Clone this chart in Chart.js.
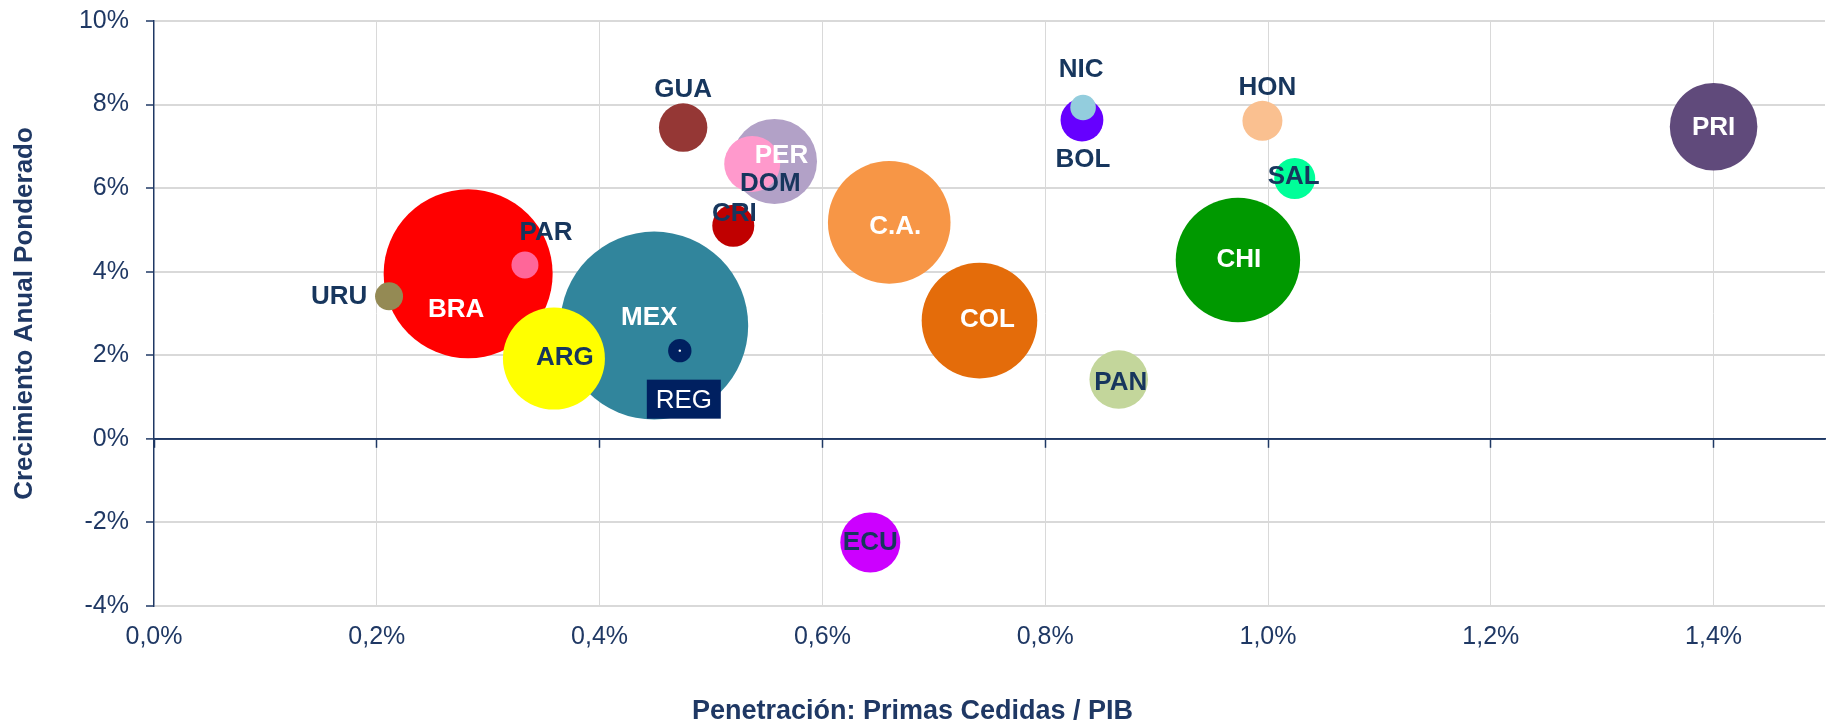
<!DOCTYPE html>
<html lang="es">
<head>
    <meta charset="UTF-8">
    <title>Penetración vs Crecimiento</title>
    <script src="https://cdn.jsdelivr.net/npm/chart.js@4"></script>
    <style>
        body { margin: 0; background: #fff; }
        #grafico { display: block; }
    </style>
</head>
<body>
    <canvas id="grafico" width="1833" height="727"></canvas>

    <script>
        // Datos
        var paises = ['BRA', 'URU', 'PAR', 'MEX', 'ARG', 'REG', 'PER', 'DOM', 'GUA', 'CRI',
                      'C.A.', 'COL', 'CHI', 'PAN', 'BOL', 'NIC', 'HON', 'SAL', 'PRI', 'ECU'];
        // Penetracion: primas cedidas / PIB (%)
        var penetracion = [0.282, 0.211, 0.333, 0.449, 0.359, 0.472, 0.557, 0.537, 0.475, 0.520,
                           0.660, 0.741, 0.973, 0.866, 0.833, 0.834, 0.995, 1.024, 1.400, 0.643];
        // Crecimiento anual ponderado (%)
        var crecimiento = [3.95, 3.41, 4.16, 2.71, 1.92, 2.11, 6.64, 6.58, 7.45, 5.10,
                           5.18, 2.83, 4.28, 1.42, 7.63, 7.93, 7.61, 6.23, 7.47, -2.48];
        // Tamano de la burbuja (radio)
        var tamano = [84.5, 14, 13.5, 94, 51, 11.7, 42.5, 28, 24.2, 21,
                      61.3, 57.8, 62.2, 29.3, 21.4, 12.8, 20, 20.5, 43.8, 30];
        var ticksX = [0, 0.2, 0.4, 0.6, 0.8, 1.0, 1.2, 1.4];
        var ticksY = [-4, -2, 0, 2, 4, 6, 8, 10];

        var colores = {
            'BRA': '#FF0000', 'URU': '#948A54', 'PAR': '#FF6699', 'MEX': '#31859C',
            'ARG': '#FFFF00', 'REG': '#002060', 'PER': '#B2A1C7', 'DOM': '#FF99CC',
            'GUA': '#953735', 'CRI': '#C00000', 'C.A.': '#F79646', 'COL': '#E46C0A',
            'CHI': '#009900', 'PAN': '#C3D69B', 'BOL': '#6600FF', 'NIC': '#93CDDD',
            'HON': '#FAC090', 'SAL': '#00FF99', 'PRI': '#604A7B', 'ECU': '#CC00FF'
        };
        // desplazamiento de cada etiqueta respecto al centro de su burbuja
        var desplazamiento = {
            'BRA': [-12, 36], 'URU': [-50, 0], 'PAR': [21, -32], 'MEX': [-5, -8],
            'ARG': [11, -1], 'REG': [4, 49], 'PER': [7, -6], 'DOM': [18, 20],
            'GUA': [0, -38], 'CRI': [1, -12], 'C.A.': [6, 4], 'COL': [8, -1],
            'CHI': [1, 0], 'PAN': [2, 3], 'BOL': [1, 40], 'NIC': [-2, -38],
            'HON': [5, -33], 'SAL': [-1, -2], 'PRI': [0, 1], 'ECU': [0, 0]
        };
        var blancos = ['BRA', 'MEX', 'PER', 'C.A.', 'COL', 'CHI', 'PRI'];

        var azul = '#1F3864';
        var gris = '#D9D9D9';
        var fuente = "'Liberation Sans', Arial, sans-serif";

        Chart.defaults.font.family = fuente;
        Chart.defaults.color = azul;

        // etiquetas de las burbujas
        var etiquetas = {
            id: 'etiquetas',
            afterDatasetsDraw: function (chart) {
                var ctx = chart.ctx;
                var meta = chart.getDatasetMeta(0);
                ctx.save();
                ctx.textAlign = 'center';
                ctx.textBaseline = 'middle';
                meta.data.forEach(function (el, i) {
                    var p = paises[i];
                    var off = desplazamiento[p];
                    var x = el.x + off[0], y = el.y + off[1];
                    if (p === 'REG') {
                        ctx.fillStyle = '#FFFFFF';
                        ctx.beginPath();
                        ctx.arc(el.x, el.y, 1.2, 0, Math.PI * 2);
                        ctx.fill();
                        ctx.fillStyle = '#002060';
                        ctx.fillRect(x - 37, y - 20, 74, 39);
                        ctx.font = '26px ' + fuente;
                        ctx.fillStyle = '#FFFFFF';
                        ctx.fillText(p, x, y + 1);
                        return;
                    }
                    ctx.font = 'bold 26px ' + fuente;
                    ctx.fillStyle = blancos.indexOf(p) >= 0 ? '#FFFFFF' : '#17365D';
                    ctx.fillText(p, x, y);
                });
                ctx.restore();
            }
        };

        var puntos = paises.map(function (p, i) {
            return { x: penetracion[i], y: crecimiento[i], r: tamano[i] };
        });

        new Chart(document.getElementById('grafico'), {
            type: 'bubble',
            data: {
                labels: paises,
                datasets: [{
                    data: puntos,
                    backgroundColor: paises.map(function (p) { return colores[p]; }),
                    borderWidth: 0,
                    hoverRadius: 0,
                    clip: false
                }]
            },
            options: {
                responsive: false,
                animation: false,
                events: [],
                layout: {
                    autoPadding: false,
                    padding: { top: 21, right: 8, left: 0, bottom: 0 }
                },
                plugins: {
                    legend: { display: false },
                    tooltip: { enabled: false },
                    title: {
                        display: true,
                        position: 'bottom',
                        text: 'Penetración: Primas Cedidas / PIB',
                        color: azul,
                        font: { size: 27, weight: 'bold', lineHeight: 1.15 },
                        padding: { top: 0, bottom: 0 }
                    }
                },
                scales: {
                    x: {
                        type: 'linear',
                        min: 0,
                        max: 1.5,
                        afterBuildTicks: function (scale) {
                            scale.ticks = ticksX.map(function (v) { return { value: v }; });
                        },
                        afterFit: function (scale) {
                            scale.height = 727 - 31 - 606;
                            scale.paddingLeft = 0;
                            scale.paddingRight = 0;
                        },
                        border: { display: false },
                        grid: {
                            color: function (c) { return c.tick && c.tick.value === 0 ? 'rgba(0,0,0,0)' : gris; },
                            lineWidth: 1,
                            drawTicks: false
                        },
                        ticks: {
                            padding: 16,
                            color: azul,
                            font: { size: 25 },
                            maxRotation: 0,
                            callback: function (v) { return v.toFixed(1).replace('.', ',') + '%'; }
                        }
                    },
                    x2: {
                        type: 'linear',
                        axis: 'x',
                        position: { y: 0 },
                        min: 0,
                        max: 1.5,
                        afterBuildTicks: function (scale) {
                            scale.ticks = ticksX.map(function (v) { return { value: v }; });
                        },
                        afterFit: function (scale) {
                            scale.paddingLeft = 0;
                            scale.paddingRight = 0;
                        },
                        border: { display: true, color: azul, width: 1.8 },
                        grid: {
                            drawOnChartArea: false,
                            drawTicks: true,
                            tickLength: 8,
                            tickColor: azul,
                            tickWidth: 1.5
                        },
                        ticks: { display: false }
                    },
                    y: {
                        type: 'linear',
                        min: -4,
                        max: 10,
                        afterBuildTicks: function (scale) {
                            scale.ticks = ticksY.map(function (v) { return { value: v }; });
                        },
                        afterFit: function (scale) {
                            scale.width = 154;
                            scale.paddingTop = 0;
                            scale.paddingBottom = 0;
                        },
                        border: { display: true, color: azul, width: 1.5 },
                        grid: {
                            color: function (c) { return c.tick && c.tick.value === 0 ? azul : gris; },
                            lineWidth: function (c) { return c.tick && c.tick.value === 0 ? 1.8 : 2; },
                            drawTicks: true,
                            tickLength: 8,
                            tickColor: azul,
                            tickWidth: 1.5
                        },
                        ticks: {
                            padding: 17,
                            color: azul,
                            font: { size: 25 },
                            callback: function (v) { return v + '%'; }
                        },
                        title: {
                            display: true,
                            text: 'Crecimiento Anual Ponderado',
                            color: azul,
                            font: { size: 26, weight: 'bold' },
                            padding: { top: 9, bottom: 0 }
                        }
                    }
                }
            },
            plugins: [etiquetas]
        });
    </script>
</body>
</html>
